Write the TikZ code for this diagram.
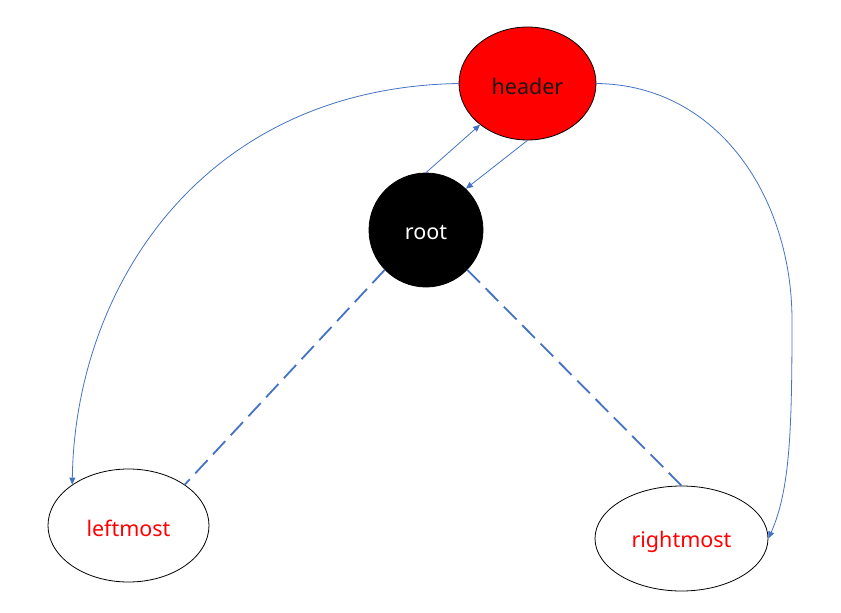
\documentclass[tikz,border=0pt]{standalone}
\usepackage{fontspec}
\setmainfont{Noto Sans}
\usetikzlibrary{shapes.geometric,arrows.meta}
\definecolor{lineblue}{HTML}{4472C4}
\newcommand{\lowtext}[1]{\raisebox{-3pt}[\height][\depth]{#1}}
\begin{document}
\begin{tikzpicture}[x=1pt,y=-1pt,
  oval/.style={ellipse,draw=black,line width=0.8pt,inner sep=0pt,font=\fontsize{21.5}{24}\selectfont},
  link/.style={draw=lineblue,line width=0.8pt,-{Triangle[length=7pt,width=6pt]}},
  dlink/.style={draw=lineblue,line width=1.8pt,dash pattern=on 18pt off 8pt}]
\useasboundingbox (0,0) rectangle (841,613);
\node[oval,fill=red,minimum width=137pt,minimum height=113pt,text=black!90] (header) at (527.5,83.5) {\lowtext{header}};
\node[oval,circle,fill=black,minimum size=114pt,text=white] (root) at (426,230) {\lowtext{root}};
\node[oval,fill=white,minimum width=161pt,minimum height=113pt,text=red] (leftmost) at (128.5,525.5) {\lowtext{leftmost}};
\node[oval,fill=white,minimum width=173pt,minimum height=105pt,text=red] (rightmost) at (681.5,538.5) {\lowtext{rightmost}};
\draw[link] (root.north) -- (header.221);
\draw[link] (header.south) -- (root.46);
\draw[link] (header.west) .. controls (200,88) and (75,290) .. (leftmost.144);
\draw[link] (header.east) .. controls (720,85) and (792,200) .. (792,320) .. controls (792,430) and (790,490) .. (rightmost.east);
\draw[dlink] (root.224) -- (leftmost.36);
\draw[dlink] (root.316) -- (rightmost.north);
\end{tikzpicture}
\end{document}
